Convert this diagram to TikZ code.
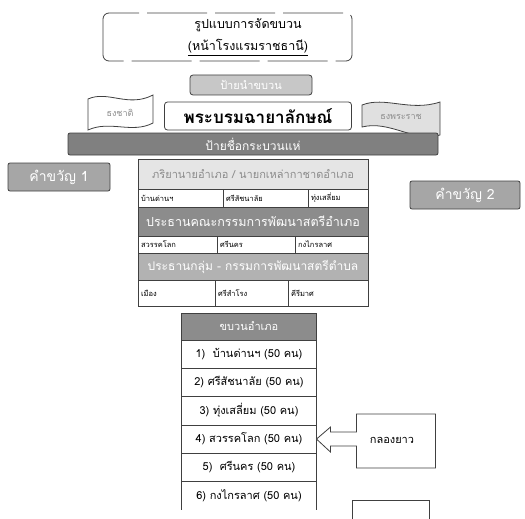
\documentclass[tikz,border=0pt]{standalone}
\usepackage{fontspec}
\setmainfont[Script=Thai]{Loma}
\usetikzlibrary{positioning}
\tikzstyle{line} = [draw=black!75, line width=0.8pt]
\tikzstyle{box} = [line, rectangle, outer sep=0pt, inner sep=0pt]
\tikzstyle{graybar} = [box, fill=black!45, text=white, rounded corners=2pt]
\tikzstyle{grayrow} = [box, fill=black!40, text=white, anchor=north west, minimum width=230pt]
\tikzstyle{cell} = [box, anchor=north west, inner xsep=3pt, align=left, font=\fontsize{7.5}{8}\selectfont]
\tikzstyle{listrow} = [box, minimum width=135pt, minimum height=28.3pt, font=\fontsize{11}{12}\selectfont]

\begin{document}
\begin{tikzpicture}[x=1pt,y=-1pt]
    \useasboundingbox (0,0) rectangle (525,519);
    % heading
    \draw[line, dash pattern=on 60pt off 8pt, rounded corners=6pt] (103,13) rectangle (352,61);
    \node[align=center, font=\fontsize{12.5}{22}\selectfont] (title) at (248,37) {รูปแบบการจัดขบวน\\\underline{(หน้าโรงแรมราชธานี)}};
    \node[box, fill=black!22, text=white, rounded corners=3pt, minimum width=122pt, minimum height=20pt, font=\fontsize{11}{12}\selectfont] (badge) at (251,85) {ป้ายนำขบวน};
    % flags and portrait
    \draw[line, fill=white] (88,99) .. controls (108,90) and (128,108) .. (153,95) -- (153,123) .. controls (132,134) and (110,120) .. (88,130) -- cycle;
    \draw[line, fill=black!12] (362,105) .. controls (385,96) and (410,112) .. (440,102) -- (440,135) .. controls (415,143) and (390,120) .. (362,127) -- cycle;
    \node[text=black!45, font=\fontsize{9}{10}\selectfont] (flagL) at (120,113) {ธงชาติ};
    \node[text=black!45, font=\fontsize{9}{10}\selectfont] (flagR) at (401,117) {ธงพระราช};
    \node[box, rounded corners=3pt, minimum width=187pt, minimum height=28pt, font=\bfseries\fontsize{17}{18}\selectfont] (portrait) at (258,116) {พระบรมฉายาลักษณ์};
    \node[graybar, fill=black!50, minimum width=370pt, minimum height=22pt, font=\fontsize{12}{13}\selectfont] (sign) at (253,144) {ป้ายชื่อกระบวนแห่};
    \node[graybar, fill=black!35, minimum width=102pt, minimum height=28pt, font=\fontsize{14}{15}\selectfont] (khwanA) at (59,177) {คำขวัญ 1};
    \node[graybar, fill=black!35, minimum width=110pt, minimum height=28pt, font=\fontsize{14}{15}\selectfont] (khwanB) at (465,195) {คำขวัญ 2};
    % table
    \node[grayrow, fill=black!10, text=black!45, minimum height=30pt, font=\fontsize{11}{12}\selectfont] (rowA) at (138,159) {ภริยานายอำเภอ / นายกเหล่ากาชาดอำเภอ};
    \node[cell, text width=79pt, minimum height=18pt] (a1) at (138,189) {บ้านด่านฯ};
    \node[cell, text width=79pt, minimum height=18pt, right=0pt of a1] (a2) {ศรีสัชนาลัย};
    \node[cell, text width=54pt, minimum height=18pt, right=0pt of a2] (a3) {ทุ่งเสลี่ยม};
    \node[grayrow, fill=black!45, minimum height=29pt, font=\fontsize{12.5}{13}\selectfont] (rowB) at (138,207) {ประธานคณะกรรมการพัฒนาสตรีอำเภอ};
    \node[cell, text width=73pt, minimum height=17pt] (b1) at (138,236) {สวรรคโลก};
    \node[cell, text width=72pt, minimum height=17pt, right=0pt of b1] (b2) {ศรีนคร};
    \node[cell, text width=67pt, minimum height=17pt, right=0pt of b2] (b3) {กงไกรลาศ};
    \node[grayrow, fill=black!30, minimum height=27pt, font=\fontsize{12}{13}\selectfont] (rowC) at (138,253) {ประธานกลุ่ม - กรรมการพัฒนาสตรีตำบล};
    \node[cell, text width=71pt, minimum height=26pt] (c1) at (138,280) {เมือง};
    \node[cell, text width=67pt, minimum height=26pt, right=0pt of c1] (c2) {ศรีสำโรง};
    \node[cell, text width=74pt, minimum height=26pt, right=0pt of c2] (c3) {คีรีมาศ};
    % district list
    \node[box, fill=black!45, text=white, minimum width=135pt, minimum height=27pt, font=\fontsize{11}{12}\selectfont] (head) at (249,326.5) {ขบวนอำเภอ};
    \node[listrow, below=0pt of head] (row1) {1)\ \ บ้านด่านฯ (50 คน)};
    \node[listrow, below=0pt of row1] (row2) {2) ศรีสัชนาลัย (50 คน)};
    \node[listrow, below=0pt of row2] (row3) {3) ทุ่งเสลี่ยม (50 คน)};
    \node[listrow, below=0pt of row3] (row4) {4) สวรรคโลก (50 คน)};
    \node[listrow, below=0pt of row4] (row5) {5)\ \ ศรีนคร (50 คน)};
    \node[listrow, draw=none, below=0pt of row5] (row6) {6) กงไกรลาศ (50 คน)};
    \draw[line] (row6.south west) -- (row6.north west) -- (row6.north east) -- (row6.south east);
    % drums
    \draw[line, fill=white] (row4.east) -- ++(14,-12) -- ++(0,5) -- ++(26,0) -- ++(0,-18) -- ++(79,0) -- ++(0,54) -- ++(-79,0) -- ++(0,-22) -- ++(-26,0) -- ++(0,6) -- cycle;
    \node[font=\fontsize{11}{12}\selectfont] (drum) at (392,440) {กลองยาว};
    \draw[line] (352,519) -- (352,500) -- (429,500) -- (429,519);
\end{tikzpicture}
\end{document}
